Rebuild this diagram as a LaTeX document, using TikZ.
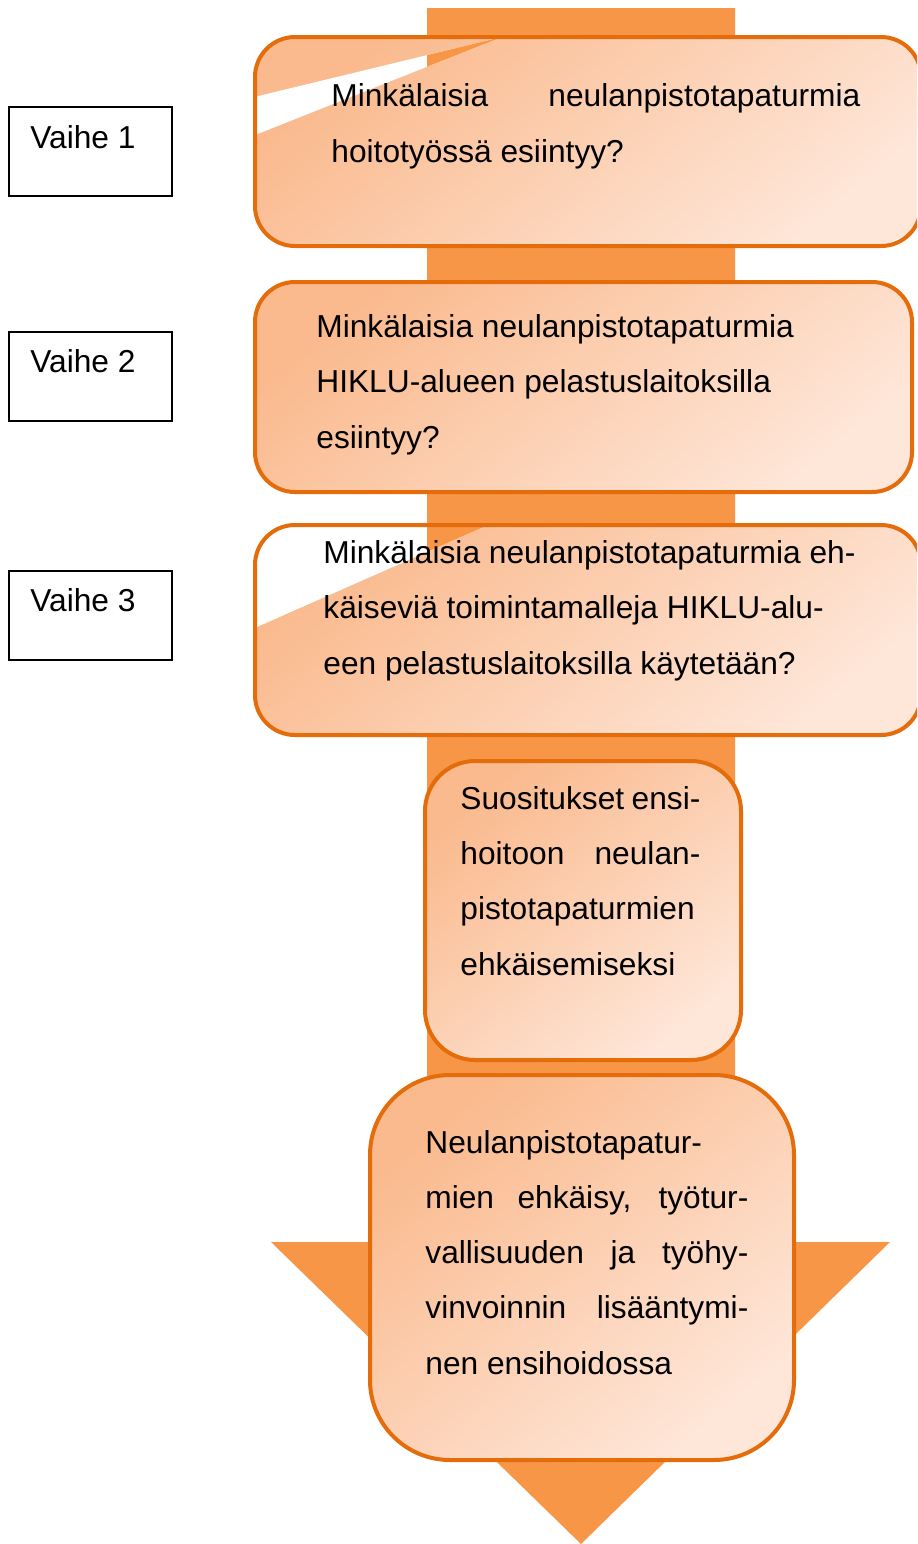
\documentclass[tikz,border=0pt]{standalone}
\usepackage{fontspec}
\setmainfont{Liberation Sans}
\definecolor{shaft}{RGB}{247,150,70}
\definecolor{edge}{RGB}{228,108,10}
\definecolor{fillA}{RGB}{250,186,142}
\definecolor{fillB}{RGB}{254,230,216}
\tikzset{
  boxfill/.style={top color=fillA, bottom color=fillB, shading angle=40},
  boxedge/.style={draw=edge, line width=2pt},
  txt/.style={inner sep=0pt, anchor=base west, align=left,
    font=\fontsize{15.85}{27.6}\selectfont},
  stage/.style={draw=black, line width=0.65pt}
}
\begin{document}
\begin{tikzpicture}[x=0.5pt,y=-0.5pt]
\useasboundingbox (0,0) rectangle (917,1544);
\clip (0,0) rectangle (917,1544);
\fill[white] (0,0) rectangle (917,1544);
% big arrow
\fill[shaft] (427,8) -- (735,8) -- (735,1242) -- (890,1242) -- (581,1544)
  -- (271,1242) -- (427,1242) -- cycle;
% stage boxes
\draw[stage] (9,107) rectangle (172,196);
\draw[stage] (9,332) rectangle (172,421);
\draw[stage] (9,571) rectangle (172,660);
\node[txt] (v1) at (30,148) {Vaihe 1};
\node[txt] (v2) at (30,372) {Vaihe 2};
\node[txt] (v3) at (30,611) {Vaihe 3};
% box 1
\shade[boxfill, rounded corners=20pt] (255,37) rectangle (921,246);
\begin{scope}
  \clip[rounded corners=20pt] (255,37) rectangle (921,246);
  \fill[white] (250,98) -- (250,137) -- (502,37) -- cycle;
  \clip (427,8) rectangle (735,1242);
  \fill[shaft] (250,98) -- (250,137) -- (502,37) -- cycle;
\end{scope}
\begin{scope}
  \clip[rounded corners=20pt] (255,37) rectangle (921,246);
  \fill[white] (880,247) -- (922,247) -- (922,228) -- cycle;
\end{scope}
\draw[boxedge, rounded corners=20pt] (255,37) rectangle (921,246);
% box 2
\shade[boxfill, rounded corners=20pt] (255,282) rectangle (912,492);
\begin{scope}
  \clip[rounded corners=20pt] (255,282) rectangle (912,492);
  \fill[white] (880,493) -- (913,493) -- (913,478) -- cycle;
\end{scope}
\draw[boxedge, rounded corners=20pt] (255,282) rectangle (912,492);
% box 3
\shade[boxfill, rounded corners=20pt] (255,525) rectangle (921,735);
\begin{scope}
  \clip[rounded corners=20pt] (255,525) rectangle (921,735);
  \fill[white] (250,630) -- (250,520) -- (500,520) -- (488,525) -- cycle;
  \clip (427,8) rectangle (735,1242);
  \fill[shaft] (250,630) -- (250,520) -- (500,520) -- (488,525) -- cycle;
\end{scope}
\draw[boxedge, rounded corners=20pt] (255,525) rectangle (921,735);
% box 4
\shade[boxfill, rounded corners=25pt] (425,761) rectangle (741,1060);
\draw[boxedge, rounded corners=25pt] (425,761) rectangle (741,1060);
% box 5
\shade[boxfill, rounded corners=40pt] (370,1075) rectangle (794,1460);
\draw[boxedge, rounded corners=40pt] (370,1075) rectangle (794,1460);
% texts (base anchor = baseline of the last line)
\node[txt] (t1) at (331,162) {\makebox[264.5pt][s]{Minkälaisia neulanpistotapaturmia}\\hoitotyössä esiintyy?};
\node[txt] (t2) at (316,448) {Minkälaisia neulanpistotapaturmia\\HIKLU-alueen pelastuslaitoksilla\\esiintyy?};
\node[txt] (t3) at (323,674) {Minkälaisia neulanpistotapaturmia eh-\\käiseviä toimintamalleja HIKLU-alu-\\een pelastuslaitoksilla käytetään?};
\node[txt] (t4) at (460,975) {\makebox[120pt][s]{Suositukset ensi-}\\\makebox[120pt][s]{hoitoon neulan-}\\pistotapaturmien\\ehkäisemiseksi};
\node[txt] (t5) at (425,1374) {Neulanpistotapatur-\\\makebox[161.5pt][s]{mien ehkäisy, työtur-}\\\makebox[161.5pt][s]{vallisuuden ja työhy-}\\\makebox[161.5pt][s]{vinvoinnin lisääntymi-}\\nen ensihoidossa};
\end{tikzpicture}
\end{document}
